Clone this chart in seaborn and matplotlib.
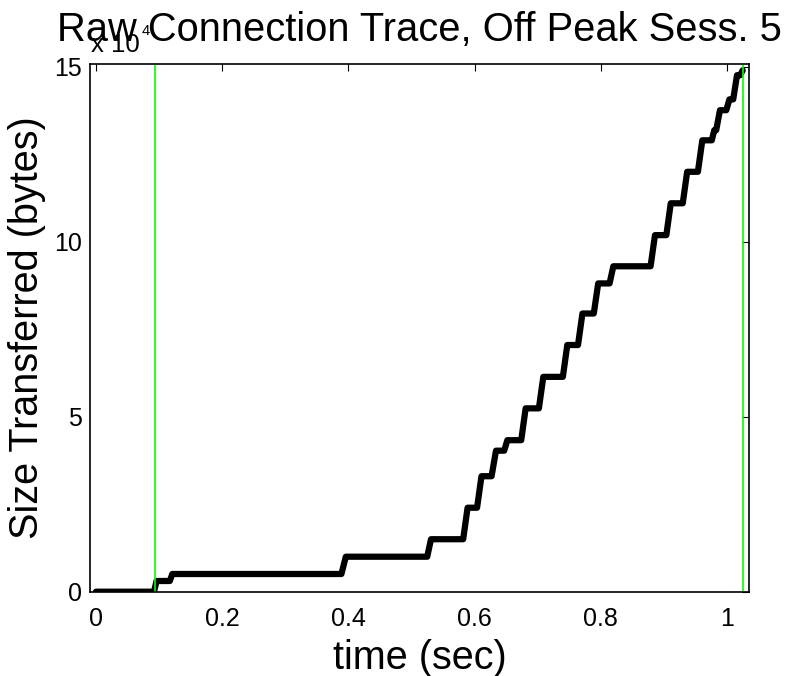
import matplotlib
matplotlib.use("Agg")
import matplotlib.pyplot as plt
import seaborn as sns
import pandas as pd

# Trace de la connexion (temps en s, octets cumulés)
time_s = [0.000, 0.092, 0.096, 0.117, 0.121, 0.389, 0.396, 0.525, 0.531,
          0.582, 0.589, 0.604, 0.611, 0.627, 0.634, 0.647, 0.652, 0.674,
          0.681, 0.702, 0.709, 0.740, 0.747, 0.764, 0.771, 0.789, 0.796,
          0.814, 0.820, 0.879, 0.886, 0.904, 0.911, 0.930, 0.937, 0.954,
          0.961, 0.976, 0.980, 0.983, 0.989, 0.999, 1.004, 1.010, 1.016,
          1.021, 1.025]
bytes_sent = [0, 0, 3060, 3060, 5060, 5060, 10000, 10000, 15000,
              15000, 24000, 24000, 33000, 33000, 40300, 40300, 43300, 43300,
              52400, 52400, 61400, 61400, 70500, 70500, 79500, 79500, 88100,
              88100, 93000, 93000, 101900, 101900, 111000, 111000, 120000, 120000,
              129000, 129000, 131900, 131900, 137600, 137600, 140700, 140700, 147600,
              147600, 149000]
markers_s = [0.094, 1.025]

y_ticks = [0, 50000, 100000, 150000]
y_labels = ["0", "5", "10", "15"]
x_ticks = [0, 0.2, 0.4, 0.6, 0.8, 1.0]
x_labels = ["0", "0.2", "0.4", "0.6", "0.8", "1"]

df = pd.DataFrame({"time": time_s, "size": bytes_sent})

sns.set_style("white")
plt.rcParams["font.family"] = ["Liberation Sans", "DejaVu Sans"]
plt.rcParams["text.color"] = "black"

fig = plt.figure(figsize=(7.92, 6.76), dpi=100)
ax = fig.add_axes([0.1136, 0.1247, 0.8321, 0.7806])

sns.lineplot(data=df, x="time", y="size", estimator=None, sort=False,
             color="black", linewidth=4.5, ax=ax,
             solid_capstyle="round", solid_joinstyle="round")
for t in markers_s:
    ax.axvline(t, color="#00ff00", linewidth=1.2)

ax.set_xlim(-0.0095, 1.035)
ax.set_ylim(0, 150800)
ax.set_xticks(x_ticks)
ax.set_xticklabels(x_labels, fontsize=18)
ax.set_yticks(y_ticks)
ax.set_yticklabels(y_labels, fontsize=18)
ax.tick_params(direction="in", length=5, width=0.8, top=True, right=True,
               colors="black", labelcolor="black")
ax.tick_params(axis="x", pad=11)
ax.tick_params(axis="y", pad=5.5)
for s in ax.spines.values():
    s.set_color("black")
    s.set_linewidth(1.2)

ax.set_xlabel("time (sec)", fontsize=28.5, labelpad=6, color="black")
ax.set_ylabel("Size Transferred (bytes)", fontsize=28.5, labelpad=6, color="black")
# titre centré sur les axes, pas sur la figure
fig.text(0.5297, 0.9400, "Raw Connection Trace, Off Peak Sess. 5",
         fontsize=28.7, ha="center", va="baseline", color="black")
fig.text(0.1145, 0.9235, "x 10", fontsize=18.5, ha="left", va="baseline", color="black")
fig.text(0.179, 0.948, "4", fontsize=10.5, ha="left", va="baseline", color="black")

fig.savefig("out.png", dpi=100)
